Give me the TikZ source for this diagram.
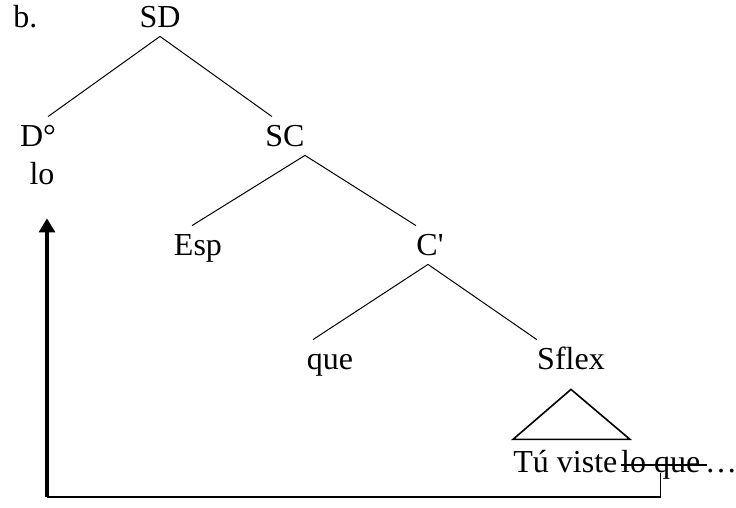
\documentclass[tikz,border=0pt]{standalone}
\usepackage{fontspec}
\setmainfont{Liberation Serif}
\usetikzlibrary{positioning, arrows.meta}

\tikzset{
  cat/.style={inner xsep=0pt, inner ysep=4pt, text height=11pt, text depth=0pt, anchor=base},
  words/.style={inner sep=0pt, anchor=base west},
  branch/.style={line width=0.5pt},
}

\begin{document}
\begin{tikzpicture}[x=0.5pt, y=-0.5pt, font=\fontsize{16}{19}\selectfont]
		\useasboundingbox (0,0) rectangle (736,508);

		% Example label
		\node[words] (ex) at (13,28) {b.};

		% Draw the categories of the tree
		\node[cat] (SD) at (160,28) {SD};
		\node[cat] (D) at (38,147) {D°};
		\node[cat] (lo) at (42,185) {lo};
		\node[cat] (SC) at (285,147) {SC};
		\node[cat] (Esp) at (198,256) {Esp};
		\node[cat] (Cbar) at (430,256) {C\textquotesingle};
		\node[cat] (que) at (330,370) {que};
		\node[cat] (Sflex) at (571,370) {Sflex};

		% Branches
		\draw[branch] (SD.south) -- ([xshift=5pt]D.north);
		\draw[branch] (SD.south) -- ([xshift=-6.5pt]SC.north);
		\draw[branch] (SC.south east) -- ([xshift=-3pt]Esp.north);
		\draw[branch] (SC.south east) -- ([xshift=-7pt]Cbar.north);
		\draw[branch] ([xshift=-1pt]Cbar.south) -- ([xshift=-8.5pt]que.north);
		\draw[branch] ([xshift=-1pt]Cbar.south) -- (Sflex.north west);

		% Triangle over the clause
		\draw[line width=0.8pt] ([yshift=-5.5pt]Sflex.south) -- ++(-58,50) -- ++(117,0) -- cycle;

		% The clause, with the moved words struck out
		\node[words] (tu) at (513,473) {Tú viste};
		\node[words, base right=0.15em of tu] (loque) {lo que};
		\node[words, base right=0.2em of loque] (dots) {…};
		\draw[line width=0.7pt] ([yshift=4pt]loque.base west) -- ([yshift=4pt, xshift=3pt]loque.base east);

		% Movement arrow
		\coordinate (turn) at (47,497);
		\draw[line width=0.65pt] (loque.base) |- (turn);
		\draw[line width=1.6pt, -{Triangle[width=8pt,length=7pt]}, shorten >=12.5pt] (turn) -- (turn |- lo.south);
	\end{tikzpicture}
\end{document}
